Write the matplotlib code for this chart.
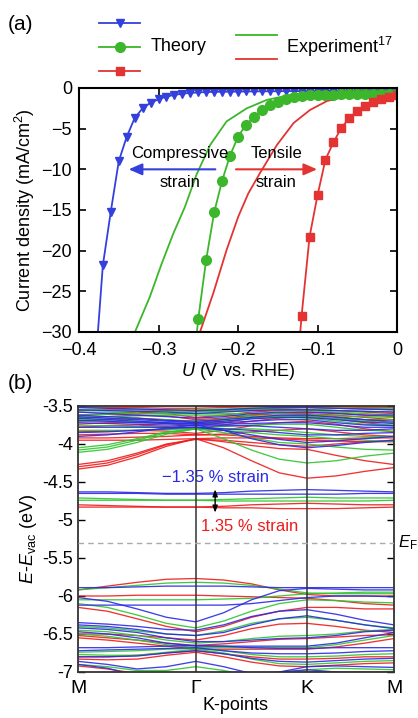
import numpy as np
import matplotlib
matplotlib.use("Agg")
import matplotlib.pyplot as plt
from matplotlib.lines import Line2D
from matplotlib.ticker import FuncFormatter

plt.rcParams['font.family'] = ['Liberation Sans', 'DejaVu Sans']
plt.rcParams['mathtext.fontset'] = 'custom'
plt.rcParams['mathtext.rm'] = 'Liberation Sans'
plt.rcParams['mathtext.it'] = 'Liberation Sans:italic'
plt.rcParams['axes.unicode_minus'] = True

# ---------------- Panel (a) data ----------------
U_blue = [-0.38, -0.37, -0.36, -0.35, -0.34, -0.33, -0.32, -0.31, -0.30, -0.29,
          -0.28, -0.27, -0.26, -0.25, -0.24, -0.23, -0.22, -0.21, -0.20, -0.19,
          -0.18, -0.17, -0.16, -0.15, -0.14, -0.13, -0.12, -0.11, -0.10, -0.09,
          -0.08, -0.07, -0.06, -0.05, -0.04, -0.03, -0.02, -0.01, 0.00]
J_blue = [-35.0, -21.8, -15.2, -9.0, -6.0, -3.7, -2.5, -1.8, -1.4, -1.05,
          -0.85, -0.70, -0.60, -0.55, -0.50, -0.48, -0.46, -0.45, -0.44, -0.43,
          -0.42, -0.41, -0.40, -0.40, -0.39, -0.38, -0.38, -0.37, -0.37, -0.36,
          -0.36, -0.35, -0.35, -0.34, -0.34, -0.33, -0.33, -0.32, -0.32]

U_green = [-0.26, -0.25, -0.24, -0.23, -0.22, -0.21, -0.20, -0.19, -0.18, -0.17,
           -0.16, -0.15, -0.14, -0.13, -0.12, -0.11, -0.10, -0.09, -0.08, -0.07,
           -0.06, -0.05, -0.04, -0.03, -0.02, -0.01, 0.00]
J_green = [-38.0, -28.4, -21.1, -15.3, -11.4, -8.3, -6.0, -4.5, -3.6, -2.7,
           -2.1, -1.7, -1.35, -1.1, -1.0, -0.9, -0.85, -0.82, -0.80, -0.78,
           -0.76, -0.75, -0.74, -0.73, -0.72, -0.71, -0.70]

U_red = [-0.13, -0.12, -0.11, -0.10, -0.09, -0.08, -0.07, -0.06, -0.05, -0.04,
         -0.03, -0.02, -0.01, 0.00]
J_red = [-40.0, -28.0, -18.3, -13.2, -8.8, -6.7, -4.9, -3.7, -2.8, -2.2,
         -1.7, -1.35, -1.07, -0.86]

U_exp_green = [-0.335, -0.3296, -0.311, -0.296, -0.2814, -0.2667, -0.252, -0.235,
               -0.2143, -0.189, -0.164, -0.1346, -0.101, -0.05, 0.0]
J_exp_green = [-31.5, -30.0, -25.7, -21.6, -17.9, -14.6, -10.6, -7.0,
               -4.1, -2.5, -1.47, -0.86, -0.53, -0.35, -0.30]
U_exp_red = [-0.25, -0.2478, -0.231, -0.2143, -0.1996, -0.187, -0.172, -0.151,
             -0.130, -0.1094, -0.088, -0.071, -0.05, -0.02, 0.0]
J_exp_red = [-31.0, -30.0, -25.2, -19.9, -15.8, -12.95, -10.4, -7.0,
             -4.3, -2.7, -1.6, -1.2, -0.9, -0.7, -0.6]

xticks_a = [-0.4, -0.3, -0.2, -0.1, 0.0]
yticks_a = [0, -5, -10, -15, -20, -25, -30]

# ---------------- Panel (b) data ----------------
k_nodes = [0.0, 0.093, 0.187, 0.280, 0.373, 0.461, 0.549, 0.637, 0.725, 0.817, 0.908, 1.0]
k_tick_pos = [0.0, 0.373, 0.725, 1.0]
k_tick_labels = ['M', 'Γ', 'K', 'M']
E_fermi = -5.3
yticks_b = [-3.5, -4, -4.5, -5, -5.5, -6, -6.5, -7]

bands_red = [
    [-3.51, -3.52, -3.52, -3.53, -3.53, -3.52, -3.51, -3.51, -3.51, -3.51, -3.52, -3.52],
    [-3.56, -3.55, -3.55, -3.56, -3.57, -3.56, -3.54, -3.53, -3.52, -3.53, -3.54, -3.55],
    [-3.62, -3.60, -3.58, -3.60, -3.65, -3.62, -3.58, -3.56, -3.55, -3.56, -3.58, -3.60],
    [-3.66, -3.64, -3.62, -3.63, -3.68, -3.66, -3.62, -3.59, -3.58, -3.59, -3.62, -3.64],
    [-3.70, -3.68, -3.66, -3.68, -3.72, -3.68, -3.62, -3.60, -3.60, -3.62, -3.65, -3.68],
    [-3.74, -3.72, -3.71, -3.73, -3.76, -3.72, -3.66, -3.63, -3.62, -3.64, -3.68, -3.72],
    [-3.78, -3.76, -3.75, -3.77, -3.80, -3.75, -3.70, -3.66, -3.64, -3.67, -3.72, -3.76],
    [-3.84, -3.83, -3.82, -3.83, -3.86, -3.82, -3.76, -3.72, -3.70, -3.74, -3.80, -3.84],
    [-3.88, -3.87, -3.86, -3.86, -3.88, -3.87, -3.84, -3.82, -3.80, -3.84, -3.88, -3.90],
    [-3.92, -3.92, -3.91, -3.90, -3.88, -3.88, -3.90, -3.92, -3.93, -3.93, -3.92, -3.92],
    [-3.95, -3.95, -3.95, -3.94, -3.93, -3.92, -3.92, -3.93, -3.95, -3.96, -3.97, -3.97],
    [-4.27, -4.22, -4.12, -4.00, -3.94, -3.95, -3.98, -4.01, -4.03, -4.00, -3.97, -3.95],
    [-4.30, -4.25, -4.14, -4.01, -3.93, -3.97, -4.02, -4.06, -4.07, -4.15, -4.22, -4.27],
    [-4.33, -4.28, -4.17, -4.03, -3.93, -4.05, -4.22, -4.38, -4.45, -4.42, -4.36, -4.31],
    [-4.80, -4.81, -4.82, -4.83, -4.83, -4.82, -4.80, -4.79, -4.78, -4.79, -4.80, -4.80],
    [-4.83, -4.83, -4.83, -4.83, -4.83, -4.84, -4.84, -4.85, -4.85, -4.85, -4.84, -4.83],
    [-5.92, -5.87, -5.82, -5.78, -5.77, -5.79, -5.84, -5.92, -5.98, -6.00, -6.00, -6.00],
    [-6.00, -6.00, -5.99, -5.99, -5.99, -6.00, -6.01, -6.02, -6.03, -6.06, -6.10, -6.12],
    [-6.15, -6.20, -6.30, -6.40, -6.47, -6.40, -6.28, -6.20, -6.15, -6.15, -6.17, -6.17],
    [-6.50, -6.50, -6.52, -6.55, -6.58, -6.52, -6.43, -6.37, -6.36, -6.40, -6.45, -6.48],
    [-6.52, -6.55, -6.58, -6.62, -6.65, -6.63, -6.60, -6.57, -6.56, -6.54, -6.52, -6.51],
    [-6.55, -6.58, -6.62, -6.66, -6.70, -6.70, -6.70, -6.70, -6.70, -6.67, -6.62, -6.56],
    [-6.80, -6.80, -6.78, -6.75, -6.72, -6.76, -6.80, -6.83, -6.83, -6.82, -6.80, -6.80],
    [-6.83, -6.84, -6.83, -6.78, -6.74, -6.80, -6.87, -6.92, -6.93, -6.91, -6.89, -6.88],
    [-6.92, -6.96, -7.02, -7.05, -7.00, -7.05, -7.10, -7.05, -7.00, -7.00, -7.00, -7.00],
]

bands_green = [
    [-3.52, -3.53, -3.54, -3.55, -3.55, -3.54, -3.53, -3.52, -3.52, -3.53, -3.53, -3.53],
    [-3.55, -3.56, -3.57, -3.57, -3.56, -3.55, -3.54, -3.54, -3.55, -3.56, -3.57, -3.58],
    [-3.58, -3.58, -3.60, -3.60, -3.58, -3.57, -3.56, -3.55, -3.56, -3.58, -3.60, -3.62],
    [-3.62, -3.61, -3.60, -3.60, -3.60, -3.60, -3.60, -3.60, -3.61, -3.63, -3.64, -3.65],
    [-3.65, -3.64, -3.63, -3.62, -3.62, -3.62, -3.63, -3.64, -3.65, -3.67, -3.68, -3.68],
    [-3.68, -3.67, -3.67, -3.68, -3.70, -3.67, -3.64, -3.63, -3.64, -3.67, -3.70, -3.72],
    [-3.70, -3.70, -3.70, -3.72, -3.74, -3.70, -3.66, -3.65, -3.66, -3.70, -3.74, -3.75],
    [-3.76, -3.76, -3.77, -3.78, -3.79, -3.77, -3.75, -3.74, -3.74, -3.78, -3.82, -3.83],
    [-3.82, -3.82, -3.82, -3.81, -3.80, -3.80, -3.80, -3.82, -3.85, -3.88, -3.90, -3.90],
    [-4.05, -4.01, -3.93, -3.84, -3.80, -3.82, -3.85, -3.88, -3.90, -3.93, -3.95, -3.97],
    [-4.08, -4.04, -3.95, -3.85, -3.80, -3.85, -3.92, -3.98, -4.00, -4.04, -4.07, -4.08],
    [-4.11, -4.07, -3.98, -3.87, -3.80, -3.93, -4.08, -4.20, -4.25, -4.22, -4.16, -4.12],
    [-4.71, -4.72, -4.73, -4.74, -4.74, -4.73, -4.72, -4.71, -4.70, -4.71, -4.71, -4.71],
    [-4.74, -4.74, -4.74, -4.74, -4.74, -4.75, -4.75, -4.75, -4.75, -4.75, -4.75, -4.74],
    [-5.92, -5.89, -5.86, -5.83, -5.82, -5.83, -5.86, -5.91, -5.96, -5.97, -5.97, -5.97],
    [-6.05, -6.05, -6.05, -6.05, -6.05, -6.04, -6.03, -6.00, -5.97, -5.96, -5.95, -5.95],
    [-6.10, -6.15, -6.25, -6.36, -6.42, -6.33, -6.20, -6.10, -6.05, -6.06, -6.08, -6.09],
    [-6.40, -6.42, -6.46, -6.50, -6.52, -6.46, -6.36, -6.30, -6.28, -6.32, -6.38, -6.42],
    [-6.45, -6.47, -6.52, -6.58, -6.62, -6.60, -6.56, -6.53, -6.52, -6.50, -6.46, -6.44],
    [-6.50, -6.53, -6.58, -6.64, -6.68, -6.68, -6.68, -6.68, -6.68, -6.64, -6.58, -6.52],
    [-6.74, -6.73, -6.72, -6.70, -6.69, -6.72, -6.77, -6.80, -6.80, -6.79, -6.77, -6.76],
    [-6.77, -6.78, -6.78, -6.74, -6.70, -6.75, -6.83, -6.89, -6.90, -6.88, -6.86, -6.85],
    [-6.90, -6.93, -6.98, -6.98, -6.93, -6.98, -7.05, -7.05, -6.97, -6.95, -6.96, -6.97],
]

bands_blue = [
    [-3.52, -3.53, -3.54, -3.55, -3.56, -3.55, -3.53, -3.52, -3.52, -3.53, -3.54, -3.55],
    [-3.55, -3.56, -3.57, -3.58, -3.60, -3.58, -3.56, -3.55, -3.55, -3.56, -3.57, -3.58],
    [-3.58, -3.60, -3.62, -3.64, -3.66, -3.64, -3.60, -3.58, -3.58, -3.60, -3.62, -3.62],
    [-3.62, -3.64, -3.66, -3.69, -3.70, -3.68, -3.65, -3.62, -3.62, -3.65, -3.68, -3.70],
    [-3.64, -3.66, -3.68, -3.70, -3.72, -3.70, -3.67, -3.65, -3.65, -3.68, -3.71, -3.73],
    [-3.66, -3.68, -3.70, -3.72, -3.73, -3.72, -3.70, -3.68, -3.68, -3.72, -3.75, -3.76],
    [-3.69, -3.70, -3.72, -3.73, -3.74, -3.74, -3.73, -3.72, -3.72, -3.75, -3.78, -3.78],
    [-3.72, -3.73, -3.74, -3.75, -3.76, -3.76, -3.76, -3.78, -3.80, -3.82, -3.82, -3.80],
    [-3.78, -3.78, -3.78, -3.78, -3.78, -3.80, -3.82, -3.85, -3.88, -3.88, -3.86, -3.85],
    [-3.85, -3.84, -3.82, -3.80, -3.78, -3.82, -3.88, -3.94, -3.98, -3.96, -3.93, -3.90],
    [-3.90, -3.88, -3.84, -3.79, -3.75, -3.82, -3.93, -4.01, -4.05, -4.02, -3.98, -3.95],
    [-4.63, -4.63, -4.64, -4.65, -4.65, -4.64, -4.62, -4.61, -4.60, -4.61, -4.62, -4.63],
    [-4.65, -4.65, -4.65, -4.66, -4.66, -4.66, -4.66, -4.66, -4.66, -4.66, -4.65, -4.65],
    [-5.89, -5.89, -5.88, -5.87, -5.87, -5.87, -5.88, -5.89, -5.89, -5.89, -5.89, -5.89],
    [-6.02, -6.07, -6.17, -6.28, -6.34, -6.22, -6.05, -5.93, -5.90, -5.91, -5.92, -5.92],
    [-6.12, -6.12, -6.12, -6.12, -6.12, -6.12, -6.10, -6.06, -6.02, -6.00, -6.00, -6.01],
    [-6.35, -6.37, -6.40, -6.44, -6.45, -6.38, -6.27, -6.20, -6.18, -6.24, -6.32, -6.38],
    [-6.38, -6.40, -6.44, -6.50, -6.52, -6.48, -6.38, -6.30, -6.26, -6.32, -6.38, -6.43],
    [-6.42, -6.44, -6.48, -6.55, -6.60, -6.60, -6.58, -6.56, -6.55, -6.52, -6.47, -6.45],
    [-6.47, -6.50, -6.55, -6.62, -6.66, -6.66, -6.66, -6.66, -6.66, -6.62, -6.55, -6.48],
    [-6.68, -6.68, -6.67, -6.66, -6.65, -6.66, -6.68, -6.69, -6.69, -6.68, -6.68, -6.68],
    [-6.72, -6.71, -6.70, -6.69, -6.68, -6.72, -6.75, -6.76, -6.76, -6.75, -6.73, -6.72],
    [-6.80, -6.80, -6.79, -6.75, -6.72, -6.76, -6.82, -6.86, -6.87, -6.85, -6.83, -6.82],
    [-6.86, -6.90, -6.96, -6.93, -6.86, -6.93, -7.02, -7.00, -6.93, -6.92, -6.93, -6.94],
    [-6.90, -6.95, -7.05, -7.10, -7.10, -7.10, -7.10, -7.00, -6.97, -7.00, -7.05, -7.05],
]

# ---------------- Styles ----------------
C_BLUE = '#3440dc'
C_GREEN = '#3cb62a'
C_RED = '#e33333'
CB_BLUE = '#2a2ae6'
CB_GREEN = '#2ec52e'
CB_RED = '#ee1c1c'
FS = 13

W, H = 418, 718
fig = plt.figure(figsize=(W / 100, H / 100), dpi=100)

def fx(px):
    return px / W

def fy(py):
    return 1 - py / H

# ---------------- Panel (a) ----------------
MS_T, MS_C, MS_S = 6.2, 7.0, 6.3
ax1 = fig.add_axes([fx(79), fy(332), fx(397) - fx(79), fy(88) - fy(332)])
ax1.plot(U_exp_green, J_exp_green, color=C_GREEN, lw=1.3)
ax1.plot(U_exp_red, J_exp_red, color=C_RED, lw=1.3)
ax1.plot(U_blue, J_blue, color=C_BLUE, lw=1.3, marker='v', ms=MS_T)
ax1.plot(U_green, J_green, color=C_GREEN, lw=1.3, marker='o', ms=MS_C)
ax1.plot(U_red, J_red, color=C_RED, lw=1.3, marker='s', ms=MS_S)
ax1.set_xlim(-0.4, 0.0)
ax1.set_ylim(-30, 0)
ax1.set_xticks(xticks_a)
ax1.set_yticks(yticks_a)
ax1.xaxis.set_major_formatter(FuncFormatter(lambda v, p: '0' if abs(v) < 1e-9 else ('%.1f' % v).replace('-', '\u2212')))
ax1.yaxis.set_major_formatter(FuncFormatter(lambda v, p: ('%d' % v).replace('-', '\u2212')))
ax1.tick_params(direction='in', top=True, right=True, labelsize=FS, width=1.2, length=5)
ax1.tick_params(axis='x', pad=7)
ax1.tick_params(axis='y', pad=5)
for s in ax1.spines.values():
    s.set_linewidth(1.5)
ax1.set_xlabel('$U$ (V vs. RHE)', fontsize=FS, labelpad=2)
ax1.set_ylabel('Current density (mA/cm$^2$)', fontsize=FS, labelpad=3)

ax1.annotate('', xy=(-0.341, -10), xytext=(-0.225, -10),
             arrowprops=dict(arrowstyle='-|>,head_length=0.8,head_width=0.35', color=C_BLUE, lw=1.5))
ax1.annotate('', xy=(-0.097, -10), xytext=(-0.206, -10),
             arrowprops=dict(arrowstyle='-|>,head_length=0.8,head_width=0.35', color=C_RED, lw=1.5))
ax1.text(-0.273, -8.1, 'Compressive', fontsize=12, ha='center', va='center')
ax1.text(-0.273, -11.6, 'strain', fontsize=12, ha='center', va='center')
ax1.text(-0.152, -8.1, 'Tensile', fontsize=12, ha='center', va='center')
ax1.text(-0.152, -11.6, 'strain', fontsize=12, ha='center', va='center')

# legend (drawn manually)
for yy, col, mk, ms in [(23, C_BLUE, 'v', MS_T), (46.7, C_GREEN, 'o', MS_C), (70.7, C_RED, 's', MS_S)]:
    fig.add_artist(Line2D([fx(99), fx(140)], [fy(yy), fy(yy)], color=col, lw=1.3))
    fig.add_artist(Line2D([fx(119.5)], [fy(yy)], color=col, marker=mk, ms=ms, lw=0))
fig.text(fx(151), fy(46.5), 'Theory', fontsize=FS, ha='left', va='center')
for yy, col in [(35, C_GREEN), (59.3, C_RED)]:
    fig.add_artist(Line2D([fx(236), fx(277)], [fy(yy), fy(yy)], color=col, lw=1.3))
fig.text(fx(286), fy(47), 'Experiment$^{17}$', fontsize=FS, ha='left', va='center')
fig.text(fx(8), fy(25), '(a)', fontsize=15, ha='left', va='center')

# ---------------- Panel (b) ----------------
ax2 = fig.add_axes([fx(78), fy(672), fx(394) - fx(78), fy(406) - fy(672)])
for bands, col in [(bands_red, CB_RED), (bands_green, CB_GREEN), (bands_blue, CB_BLUE)]:
    for b in bands:
        ax2.plot(k_nodes, b, color=col, lw=0.95, alpha=0.9)
for kp in k_tick_pos[1:3]:
    ax2.axvline(kp, color='#333333', lw=1.1, zorder=5)
ax2.axhline(E_fermi, color='#aaaaaa', lw=1.0, ls=(0, (4, 3)), zorder=5)
ax2.set_xlim(0, 1)
ax2.set_ylim(-7, -3.5)
ax2.set_xticks(k_tick_pos)
ax2.set_xticklabels(k_tick_labels)
ax2.set_yticks(yticks_b)
ax2.yaxis.set_major_formatter(FuncFormatter(lambda v, p: '%g' % v))
ax2.tick_params(axis='y', direction='in', right=True, labelsize=FS, width=1.0, length=5)
ax2.tick_params(axis='x', length=0, labelsize=FS + 1, pad=6)
for s in ax2.spines.values():
    s.set_linewidth(1.3)
    s.set_color('#333333')
ax2.set_xlabel('K-points', fontsize=FS, labelpad=0)
ax2.set_ylabel('$E$-$E_{\\mathrm{vac}}$ (eV)', fontsize=FS, labelpad=2)

ax2.text(0.434, -4.447, '\u22121.35 % strain', color=CB_BLUE, fontsize=12, ha='center', va='center')
ax2.text(0.544, -5.09, '1.35 % strain', color=CB_RED, fontsize=12, ha='center', va='center')
ax2.annotate('', xy=(0.434, -4.56), xytext=(0.434, -4.94),
             arrowprops=dict(arrowstyle='<|-|>,head_length=0.4,head_width=0.15', color='black', lw=1.0))
ax2.text(1.012, E_fermi, '$E_{\\mathrm{F}}$', fontsize=12, ha='left', va='center',
         transform=ax2.get_yaxis_transform())
fig.text(fx(8), fy(383), '(b)', fontsize=15, ha='left', va='center')

fig.savefig('out.png', dpi=100)
